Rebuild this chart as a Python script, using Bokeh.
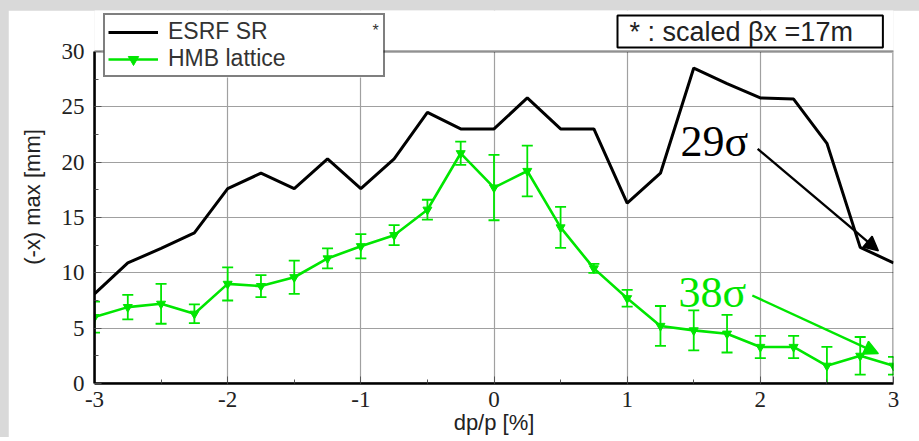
from bokeh.plotting import figure
from bokeh.layouts import column
from bokeh.models import (ColumnDataSource, Whisker, TeeHead, Arrow, NormalHead,
                          Label, Legend, LegendItem, FixedTicker, BoxAnnotation)
from bokeh.embed import file_html
from bokeh.resources import INLINE

# ---- data ----
dpp = [-3, -2.75, -2.5, -2.25, -2, -1.75, -1.5, -1.25, -1, -0.75, -0.5, -0.25,
       0, 0.25, 0.5, 0.75, 1, 1.25, 1.5, 1.75, 2, 2.25, 2.5, 2.75, 3]
esrf = [8.1, 10.9, 12.2, 13.6, 17.6, 19.0, 17.6, 20.3, 17.6, 20.3, 24.5, 23.0,
        23.0, 25.8, 23.0, 23.0, 16.3, 19.0, 28.5, 27.1, 25.8, 25.7, 21.7, 12.3, 10.9]
hmb = [6.0, 6.9, 7.2, 6.3, 9.0, 8.8, 9.6, 11.3, 12.4, 13.4, 15.7, 20.8,
       17.7, 19.2, 14.1, 10.4, 7.7, 5.2, 4.8, 4.5, 3.3, 3.3, 1.6, 2.5, 1.6]
hmb_err = [1.4, 1.1, 1.8, 0.85, 1.5, 1.0, 1.5, 0.9, 1.1, 0.9, 0.9, 1.05,
           2.95, 2.3, 1.85, 0.4, 0.75, 1.8, 1.8, 1.7, 1.0, 1.0, 1.7, 1.7, 0.8]
x_ticks = [-3, -2, -1, 0, 1, 2, 3]
y_ticks = [0, 5, 10, 15, 20, 25, 30]
x_min, x_max, y_min, y_max = -3, 3, 0, 30
ann_29 = dict(text="29σ", x=1.40, y=21.9, x0=1.98, y0=21.2, x1=2.886, y1=12.0)
ann_38 = dict(text="38σ", x=1.385, y=8.2, x0=1.94, y0=7.95, x1=2.886, y1=2.7)

GREEN = "#00e600"
SERIF = "Liberation Serif"
SANS = "Liberation Sans"
Y_TOP = 33.7  # the frame reaches above 30 so the legend boxes can overlap its top

src = ColumnDataSource(dict(
    x=dpp, esrf=esrf, hmb=hmb,
    lo=[h - e for h, e in zip(hmb, hmb_err)],
    hi=[h + e for h, e in zip(hmb, hmb_err)],
))

p = figure(frame_width=799, frame_height=373, output_backend="svg",
           toolbar_location=None, x_range=(x_min, x_max), y_range=(y_min, Y_TOP),
           min_border_left=86, min_border_right=26, min_border_top=0,
           min_border_bottom=52, margin=(10, 0, 0, 8))
p.background_fill_color = "white"
p.border_fill_color = "white"
p.outline_line_color = None

# grid
p.xgrid.ticker = FixedTicker(ticks=x_ticks)
p.ygrid.ticker = FixedTicker(ticks=y_ticks)
for g in (p.xgrid, p.ygrid):
    g.grid_line_color = "#a0a0a0"
    g.grid_line_width = 1.2

# axes
def style_axis(ax, ticks, minor):
    ax.ticker = FixedTicker(ticks=ticks, minor_ticks=minor)
    ax.major_label_overrides = {t: str(t) for t in ticks}
    ax.major_tick_in = 7
    ax.major_tick_out = 0
    ax.minor_tick_in = 4
    ax.minor_tick_out = 0
    ax.major_tick_line_color = "#555555"
    ax.minor_tick_line_color = "#555555"
    ax.axis_line_color = "black"
    ax.axis_line_width = 2.5
    ax.major_label_text_font = SERIF
    ax.major_label_text_font_size = "23px"
    ax.major_label_text_color = "#222222"
    ax.axis_label_text_font = SANS
    ax.axis_label_text_font_size = "22px"
    ax.axis_label_text_font_style = "normal"
    ax.axis_label_text_color = "#222222"

style_axis(p.xaxis[0], x_ticks, [v / 2 for v in range(-6, 7)])
style_axis(p.yaxis[0], y_ticks, [v * 2.5 for v in range(0, 13)])
p.yaxis[0].bounds = (y_min, y_max)
p.xaxis[0].axis_label = "dp/p [%]"
p.yaxis[0].axis_label = "(-x) max [mm]"
p.xaxis[0].major_label_standoff = 8
p.xaxis[0].axis_label_standoff = 0
p.yaxis[0].major_label_standoff = 10
p.yaxis[0].axis_label_standoff = 14

# white mask above the data area and the frame box
p.add_layout(BoxAnnotation(bottom=y_max, fill_color="white", fill_alpha=1.0,
                           line_color=None))
p.add_layout(BoxAnnotation(left=x_min, right=x_max, bottom=y_min, top=y_max,
                           fill_alpha=0, line_color="black", line_width=3))

# data glyphs
l_esrf = p.line("x", "esrf", source=src, line_color="black", line_width=3)
p.add_layout(Whisker(source=src, base="x", lower="lo", upper="hi",
                     line_color=GREEN, line_width=1.8,
                     upper_head=TeeHead(size=11, line_color=GREEN, line_width=1.8),
                     lower_head=TeeHead(size=11, line_color=GREEN, line_width=1.8)))
l_hmb = p.line("x", "hmb", source=src, line_color=GREEN, line_width=2.6)
s_hmb = p.scatter("x", "hmb", source=src, marker="inverted_triangle", size=9,
                  fill_color=GREEN, line_color=GREEN)

# annotations
for ann, col in ((ann_29, "black"), (ann_38, GREEN)):
    p.add_layout(Label(x=ann["x"], y=ann["y"], text=ann["text"],
                       text_font=SERIF, text_font_size="44px", text_color=col,
                       text_baseline="middle", text_align="left"))
    p.add_layout(Arrow(x_start=ann["x0"], y_start=ann["y0"],
                       x_end=ann["x1"], y_end=ann["y1"],
                       line_color=col, line_width=2.4,
                       end=NormalHead(size=14, fill_color=col, line_color=col,
                                      line_width=1.5)))

# legend: white backing box (screen units, frame-relative) + transparent legend
LEG_X, LEG_Y, LEG_W, LEG_H = 9, 306, 280, 61
p.add_layout(BoxAnnotation(left=LEG_X, right=LEG_X + LEG_W,
                           bottom=LEG_Y, top=LEG_Y + LEG_H,
                           left_units="screen", right_units="screen",
                           bottom_units="screen", top_units="screen",
                           fill_color="white", fill_alpha=1.0, line_color=None))
legend = Legend(items=[LegendItem(label="ESRF SR", renderers=[l_esrf]),
                       LegendItem(label="HMB lattice", renderers=[l_hmb, s_hmb])],
                location=(LEG_X, LEG_Y), orientation="vertical",
                label_text_font=SANS, label_text_font_size="23px",
                label_text_color="#333333",
                glyph_width=50, glyph_height=26, label_standoff=10,
                label_width=212, label_height=26, spacing=0, padding=3,
                margin=0, border_line_color="black", border_line_width=2,
                background_fill_alpha=0.0)
p.add_layout(legend, "center")
p.add_layout(Label(x=278, y=LEG_Y + 47, x_units="screen", y_units="screen",
                   text="*", text_font=SANS, text_font_size="16px",
                   text_color="#333333", text_baseline="middle", level="overlay"))

p.add_layout(Label(x=523, y=352, x_units="screen", y_units="screen",
                   text="* : scaled βx =17m", text_font=SANS,
                   text_font_size="27px", text_color="#222222",
                   text_baseline="middle", text_align="left",
                   border_line_color="black", border_line_width=2,
                   background_fill_color="white", padding=(12, 30, 1, 1)))

page = column(p, width=919, styles={"background-color": "#d9d9d9"})

open("out.html", "w").write(file_html(page, INLINE))
